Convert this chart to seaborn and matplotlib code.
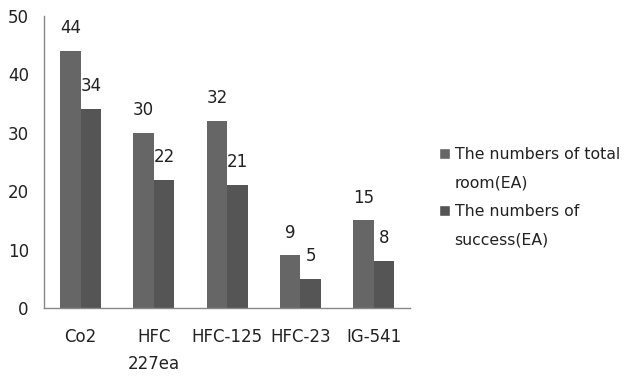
import pandas as pd
import matplotlib.pyplot as plt
import seaborn as sns
from matplotlib.patches import Patch

agents = ["Co2", "HFC\n227ea", "HFC-125", "HFC-23", "IG-541"]
total_rooms = [44, 30, 32, 9, 15]
success = [34, 22, 21, 5, 8]
series = ["The numbers of total room(EA)", "The numbers of success(EA)"]
colors = ["#666666", "#555555"]

df = pd.DataFrame({
    "agent": agents * 2,
    "value": total_rooms + success,
    "series": [series[0]] * len(agents) + [series[1]] * len(agents),
})

sns.set_style("white")
plt.rcParams['font.family'] = ['DejaVu Sans']
fs = 12

fig = plt.figure(figsize=(6.29, 3.78), dpi=100)
ax = fig.add_axes([0.070, 0.185, 0.582, 0.773])

sns.barplot(data=df, x="agent", y="value", hue="series", order=agents,
            hue_order=series, palette=colors, linewidth=0,
            width=0.56, saturation=1, ax=ax, legend=False)

for cont in ax.containers:
    ax.bar_label(cont, padding=10, fontsize=fs, color="#222222")

ax.set_ylim(0, 50)
ax.set_yticks(range(0, 51, 10))
ax.set_xlim(-0.5, len(agents) - 0.5)
ax.set_xlabel("")
ax.set_ylabel("")

# ticks at category boundaries, labels at centres
ax.set_xticks([i - 0.5 for i in range(len(agents) + 1)])
ax.set_xticklabels([])
ax.set_xticks(range(len(agents)), minor=True)
ax.set_xticklabels(agents, minor=True, linespacing=1.7, fontsize=fs)
ax.tick_params(axis="x", which="minor", length=0, pad=14)
ax.tick_params(axis="x", which="major", length=5, color="#888888", direction="out")
ax.tick_params(axis="y", length=5, color="#888888", direction="out", pad=6)
ax.tick_params(axis="both", which="both", labelsize=fs, labelcolor="#222222")

for s in ["top", "right"]:
    ax.spines[s].set_visible(False)
for s in ["left", "bottom"]:
    ax.spines[s].set_color("#888888")
    ax.spines[s].set_linewidth(1)

# legend with wrapped labels: square marker on the first line only
blank = Patch(facecolor="none", edgecolor="none")
handles = [Patch(facecolor=colors[0]), blank, Patch(facecolor=colors[1]), blank]
labels = ["The numbers of total", "room(EA)", "The numbers of", "success(EA)"]
leg = ax.legend(handles, labels, loc="center left", bbox_to_anchor=(1.04, 0.38),
                frameon=False, handlelength=0.7, handleheight=0.7,
                handletextpad=0.3, labelspacing=0.85, fontsize=11.3)
for t in leg.get_texts():
    t.set_color("#222222")

fig.savefig("out.png", dpi=100)
